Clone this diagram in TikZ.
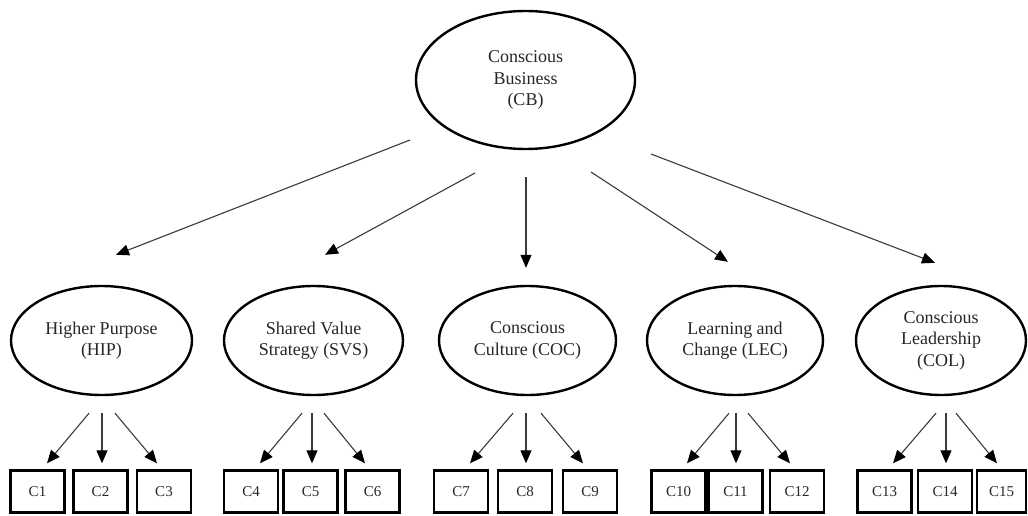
\documentclass[tikz,border=0pt]{standalone}
\usepackage{fontspec}
\setmainfont{Liberation Serif}
\newfontfamily\labelfont{Liberation Serif}
\usetikzlibrary{shapes.geometric,arrows.meta,calc}

\definecolor{inkline}{HTML}{3A3A3A}
\definecolor{inktext}{HTML}{262626}

\tikzset{
  construct/.style={draw=black, line width=2.4pt, ellipse, inner sep=0pt,
    align=center, text=inktext, font=\labelfont\fontsize{18}{21.5}\selectfont},
  item/.style={draw=black, line width=2.4pt, rectangle, inner sep=0pt,
    minimum width=54pt, minimum height=42pt, text=inktext,
    font=\labelfont\fontsize{15}{18}\selectfont},
  arr/.style={draw=inkline, line width=1.1pt,
    -{Triangle[length=13pt,width=11pt,color=black]}},
}

\begin{document}
\begin{tikzpicture}[x=1pt,y=-1pt]
\useasboundingbox (0,0) rectangle (1028,516);

% second-order construct
\node[construct, minimum width=219pt, minimum height=138pt] (cb) at (525.5,80)
  {Conscious\\Business\\(CB)};

% first-order constructs
\node[construct, minimum width=181pt, minimum height=109pt] (hip) at (101.5,340.5)
  {Higher Purpose\\(HIP)};
\node[construct, minimum width=179pt, minimum height=109pt] (svs) at (313.5,340.5)
  {Shared Value\\Strategy (SVS)};
\node[construct, minimum width=177pt, minimum height=109pt] (coc) at (527.5,340.5)
  {Conscious\\Culture (COC)};
\node[construct, minimum width=176pt, minimum height=109pt] (lec) at (735,340.5)
  {Learning and\\Change (LEC)};
\node[construct, minimum width=170pt, minimum height=109pt] (col) at (941,340.5)
  {Conscious\\Leadership\\(COL)};

% indicators
\node[item] (c1)  at (37.5,491.5)  {C1};
\node[item] (c2)  at (100.5,491.5) {C2};
\node[item] (c3)  at (164,491.5)   {C3};
\node[item] (c4)  at (251,491.5)   {C4};
\node[item] (c5)  at (310.5,491.5) {C5};
\node[item] (c6)  at (372.5,491.5) {C6};
\node[item] (c7)  at (461,491.5)   {C7};
\node[item] (c8)  at (525,491.5)   {C8};
\node[item] (c9)  at (590,491.5)   {C9};
\node[item] (c10) at (678.5,491.5) {C10};
\node[item] (c11) at (735.5,491.5) {C11};
\node[item] (c12) at (797,491.5)   {C12};
\node[item] (c13) at (884.5,491.5) {C13};
\node[item] (c14) at (945,491.5)   {C14};
\node[item, minimum width=49pt] (c15) at (1001.5,491.5) {C15};

% paths from the second-order construct
\draw[arr] ($(cb.center)+(-115.5,60)$) -- ($(hip.north)+(14.5,-30)$);
\draw[arr] ($(cb.center)+(-50.5,93)$)  -- ($(svs.north)+(11.5,-30)$);
\draw[arr] ($(cb.center)+(0.5,97)$)    -- ($(coc.north)+(-1.5,-17)$);
\draw[arr] ($(cb.center)+(65.5,92)$)   -- ($(lec.north)+(-7,-23)$);
\draw[arr] ($(cb.center)+(125.5,74)$)  -- ($(col.north)+(-6,-22)$);

% loadings onto the indicators
\draw[arr] ($(hip.south)+(-12.5,17)$) -- ($(c1.north)+(9.5,-6)$);
\draw[arr] ($(hip.south)+(0.5,17)$)   -- ($(c2.north)+(1.5,-6)$);
\draw[arr] ($(hip.south)+(13.5,17)$)  -- ($(c3.north)+(-7,-6)$);

\draw[arr] ($(svs.south)+(-11.5,17)$) -- ($(c4.north)+(9,-6)$);
\draw[arr] ($(svs.south)+(-1.5,17)$)  -- ($(c5.north)+(1.5,-6)$);
\draw[arr] ($(svs.south)+(10.5,17)$)  -- ($(c6.north)+(-7.5,-6)$);

\draw[arr] ($(coc.south)+(-14.5,17)$) -- ($(c7.north)+(9,-6)$);
\draw[arr] ($(coc.south)+(-1.5,17)$)  -- ($(c8.north)+(1,-6)$);
\draw[arr] ($(coc.south)+(13.5,17)$)  -- ($(c9.north)+(-7,-6)$);

\draw[arr] ($(lec.south)+(-6,17)$)    -- ($(c10.north)+(8.5,-6)$);
\draw[arr] ($(lec.south)+(1,17)$)     -- ($(c11.north)+(0.5,-6)$);
\draw[arr] ($(lec.south)+(13,17)$)    -- ($(c12.north)+(-7,-6)$);

\draw[arr] ($(col.south)+(-5,17)$)    -- ($(c13.north)+(8.5,-6)$);
\draw[arr] ($(col.south)+(5,17)$)     -- ($(c14.north)+(1,-6)$);
\draw[arr] ($(col.south)+(15,17)$)    -- ($(c15.north)+(-4.5,-6)$);
\end{tikzpicture}
\end{document}
